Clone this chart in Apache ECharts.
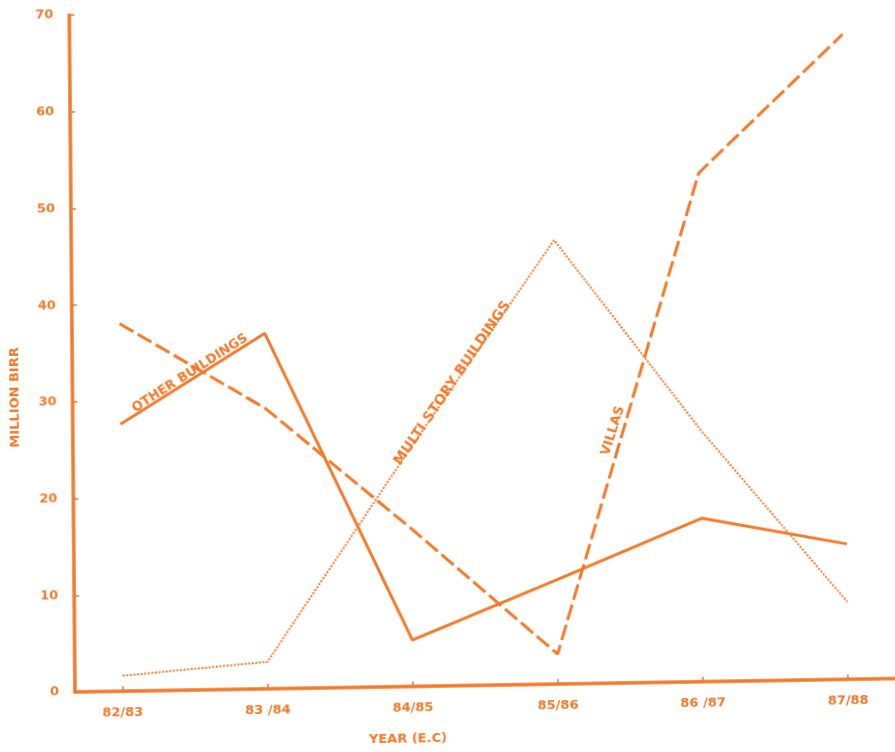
<!DOCTYPE html>
<html><head><meta charset="utf-8">
<script src="https://cdn.jsdelivr.net/npm/echarts@6/dist/echarts.min.js"></script>
<style>
html,body{margin:0;padding:0;background:#fff;overflow:hidden}
#c{width:895px;height:752px;transform-origin:75px 691.7px;transform:matrix(1,-0.0164,0.00842,1,0,0)}
</style>
</head><body><div id="c"></div>
<script>
const categories = ["82/83", "83 /84", "84/85", "85/86", "86 /87", "87/88"];
const otherBuildings = [27.6, 36.75, 4.8, 10.8, 16.9, 14.0];
const villas = [38.0, 29.0, 16.3, 3.1, 52.6, 66.7];
const multiStory = [1.6, 2.8, 24.7, 45.9, 26.0, 8.0];
const yTicks = [0, 10, 20, 30, 40, 50, 60, 70];

const C = '#f27a2a';
const FF = '"DejaVu Sans"';
const idx = categories.map((_, i) => i);
const pairs = arr => arr.map((v, i) => [i, v]);
const deg = d => d * Math.PI / 180;

const chart = echarts.init(document.getElementById('c'), null, {renderer: 'canvas'});
chart.setOption({
  backgroundColor: '#ffffff',
  animation: false,
  grid: {left: 75, right: 0, top: 15, bottom: 60},
  xAxis: {
    type: 'value', min: -0.3288, max: 5.323,
    axisLine: {show: true, onZero: false, lineStyle: {color: C, width: 3.5}},
    axisTick: {show: true, inside: true, length: 5, customValues: idx, lineStyle: {color: C, width: 1.5}},
    axisLabel: {customValues: idx, formatter: v => categories[Math.round(v)], color: C, fontFamily: 'DejaVu Sans', fontWeight: 'bold', fontSize: 13, margin: 15},
    splitLine: {show: false}
  },
  yAxis: {
    type: 'value', min: 0, max: 70,
    axisLine: {show: true, onZero: false, lineStyle: {color: C, width: 3.5}},
    axisTick: {show: true, inside: true, length: 5, customValues: yTicks, lineStyle: {color: C, width: 1.5}},
    axisLabel: {customValues: yTicks, color: C, fontFamily: 'DejaVu Sans', fontWeight: 'bold', fontSize: 13, margin: 16, padding: [0, 0, 8, 0]},
    splitLine: {show: false}
  },
  series: [
    {name: 'OTHER BUILDINGS', type: 'line', data: pairs(otherBuildings), symbol: 'none',
     lineStyle: {color: C, width: 3, type: 'solid'}},
    {name: 'VILLAS', type: 'line', data: pairs(villas), symbol: 'none',
     lineStyle: {color: C, width: 3, type: [16, 5]}},
    {name: 'MULTI STORY BUILDINGS', type: 'line', data: pairs(multiStory), symbol: 'none',
     lineStyle: {color: C, width: 2, type: [2, 1.6]}}
  ],
  graphic: [
    {type: 'text', x: 17.5, y: 396.5, rotation: deg(90), style: {text: 'MILLION BIRR', fill: C, font: 'bold 13px ' + FF, align: 'center', verticalAlign: 'middle'}},
    {type: 'text', x: 407.6, y: 745, style: {text: 'YEAR (E.C)', fill: C, font: 'bold 13px ' + FF, align: 'center', verticalAlign: 'middle'}},
    {type: 'text', x: 192.7, y: 375.3, rotation: deg(31.8), style: {text: 'OTHER BUILDINGS', fill: C, font: 'bold 13px ' + FF, align: 'center', verticalAlign: 'middle'}},
    {type: 'text', x: 455.1, y: 389.5, rotation: deg(55.0), style: {text: 'MULTI STORY BUILDINGS', fill: C, font: 'bold 14px ' + FF, align: 'center', verticalAlign: 'middle'}},
    {type: 'text', x: 615.2, y: 439.8, rotation: deg(72), style: {text: 'VILLAS', fill: C, font: 'bold 13px ' + FF, align: 'center', verticalAlign: 'middle'}}
  ]
});
</script></body></html>
